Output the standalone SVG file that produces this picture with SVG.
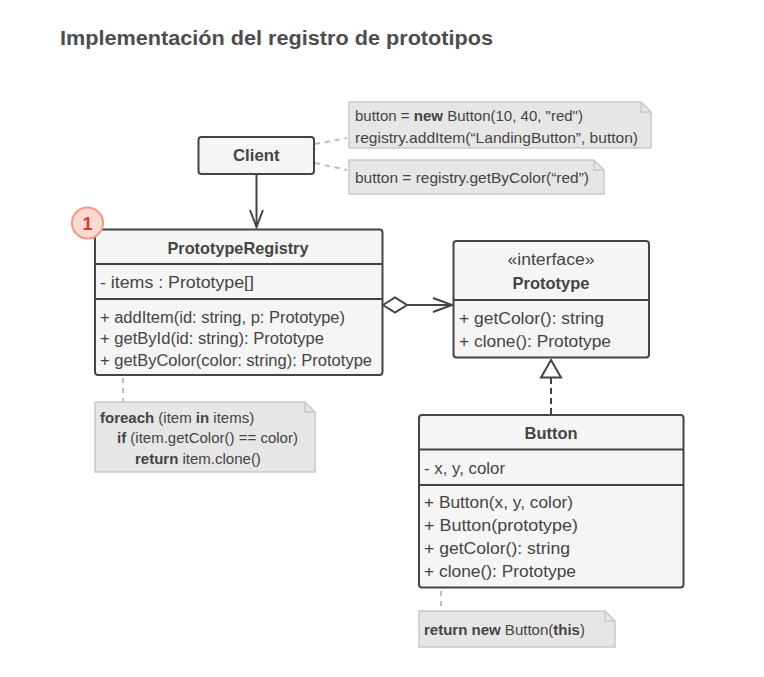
<svg xmlns="http://www.w3.org/2000/svg" width="764" height="677" viewBox="0 0 764 677">
<style>
text{font-family:"Liberation Sans","DejaVu Sans",sans-serif;fill:#444;font-size:16px}
.n{font-size:15px}
.b{font-weight:bold}
.c{text-anchor:middle}
.box{fill:#f5f5f5;stroke:#444;stroke-width:2}
.sep{stroke:#444;stroke-width:2}
.note{fill:#e6e6e6;stroke:#c9c9c9;stroke-width:1.5}
.fold{fill:none;stroke:#c9c9c9;stroke-width:1.5}
.dash{stroke:#bbb;stroke-width:2;stroke-dasharray:5 5;fill:none}
.ln{stroke:#444;stroke-width:2;fill:none}
</style>
<rect width="764" height="677" fill="#fff"/>
<text x="60" y="45" class="b" style="font-size:21px;fill:#4d4d4d" textLength="433" lengthAdjust="spacingAndGlyphs">Implementación del registro de prototipos</text>

<g id="connectors">
<path class="dash" d="M315 144 L347 138"/>
<path class="dash" d="M315 163 L347 170"/>
<path class="dash" d="M123 378 L123 402"/>
<path class="dash" d="M441 591 L441 611"/>
<path class="ln" d="M256.5 174 L256.5 227"/>
<path class="ln" d="M250 210 L256.5 227 L263 210"/>
<path class="ln" d="M383 305 L395 297.5 L407 305 L395 312.5 Z"/>
<path class="ln" d="M407 305 L452 305"/>
<path class="ln" d="M433 298 L452 305 L433 312"/>
<path class="ln" d="M551 378 L551 415" stroke-dasharray="6 4"/>
<path class="ln" d="M551 360 L541 377.5 L561 377.5 Z" fill="#fff"/>
</g>

<g id="client">
<rect class="box" x="198.5" y="137" width="115.5" height="37" rx="3"/>
<text x="233" y="161" class="b" style="font-size:17px" textLength="46.5" lengthAdjust="spacingAndGlyphs">Client</text>
</g>

<g id="note-client-1">
<path class="note" d="M349 102 H641 L651 112 V148 H349 Z"/>
<path class="fold" d="M641 102 V112 H651"/>
<text x="355" y="121" class="n">button = <tspan class="b">new</tspan> Button(10, 40, "red")</text>
<text x="355" y="143" class="n" textLength="283" lengthAdjust="spacingAndGlyphs">registry.addItem(“LandingButton”, button)</text>
</g>

<g id="note-client-2">
<path class="note" d="M349 160 H594 L604 170 V194 H349 Z"/>
<path class="fold" d="M594 160 V170 H604"/>
<text x="355" y="183" class="n" textLength="234" lengthAdjust="spacingAndGlyphs">button = registry.getByColor(“red”)</text>
</g>

<g id="prototype-registry">
<rect class="box" x="95" y="229.5" width="287.5" height="145.5" rx="3"/>
<line class="sep" x1="95" y1="264" x2="382.5" y2="264"/>
<line class="sep" x1="95" y1="299" x2="382.5" y2="299"/>
<text x="167.5" y="254" class="b" style="font-size:17px" textLength="141" lengthAdjust="spacingAndGlyphs">PrototypeRegistry</text>
<text x="100" y="288" textLength="154" lengthAdjust="spacingAndGlyphs">- items : Prototype[]</text>
<text x="100" y="322.5" textLength="245" lengthAdjust="spacingAndGlyphs">+ addItem(id: string, p: Prototype)</text>
<text x="100" y="343.5" textLength="224" lengthAdjust="spacingAndGlyphs">+ getById(id: string): Prototype</text>
<text x="100" y="365.5" textLength="272" lengthAdjust="spacingAndGlyphs">+ getByColor(color: string): Prototype</text>
</g>

<g id="badge-1">
<circle cx="87.5" cy="223" r="15.5" fill="#fcd9d1" stroke="#f29a88" stroke-width="2"/>
<text x="87.5" y="229.5" class="b c" style="font-size:18px;fill:#d23a3a">1</text>
</g>

<g id="note-registry">
<path class="note" d="M95 402 H305 L315 412 V472 H95 Z"/>
<path class="fold" d="M305 402 V412 H315"/>
<text x="100" y="423" class="n"><tspan class="b">foreach</tspan> (item <tspan class="b">in</tspan> items)</text>
<text x="117" y="443" class="n"><tspan class="b">if</tspan> (item.getColor() == color)</text>
<text x="135" y="464" class="n"><tspan class="b">return</tspan> item.clone()</text>
</g>

<g id="prototype">
<rect class="box" x="453.5" y="241" width="195.5" height="116.5" rx="3"/>
<line class="sep" x1="453.5" y1="300" x2="649" y2="300"/>
<text x="507.5" y="265" textLength="87" lengthAdjust="spacingAndGlyphs">«interface»</text>
<text x="512.5" y="289" class="b" style="font-size:17px" textLength="77" lengthAdjust="spacingAndGlyphs">Prototype</text>
<text x="459" y="324" textLength="145" lengthAdjust="spacingAndGlyphs">+ getColor(): string</text>
<text x="459" y="346.5" textLength="152" lengthAdjust="spacingAndGlyphs">+ clone(): Prototype</text>
</g>

<g id="button">
<rect class="box" x="419" y="415" width="264.5" height="172.5" rx="3"/>
<line class="sep" x1="419" y1="449.5" x2="683.5" y2="449.5"/>
<line class="sep" x1="419" y1="485" x2="683.5" y2="485"/>
<text x="524.5" y="438.5" class="b" style="font-size:17px" textLength="53" lengthAdjust="spacingAndGlyphs">Button</text>
<text x="424" y="474" textLength="81" lengthAdjust="spacingAndGlyphs">- x, y, color</text>
<text x="424" y="508" textLength="149" lengthAdjust="spacingAndGlyphs">+ Button(x, y, color)</text>
<text x="424" y="531" textLength="154" lengthAdjust="spacingAndGlyphs">+ Button(prototype)</text>
<text x="424" y="554" textLength="146" lengthAdjust="spacingAndGlyphs">+ getColor(): string</text>
<text x="424" y="577" textLength="152" lengthAdjust="spacingAndGlyphs">+ clone(): Prototype</text>
</g>

<g id="note-button">
<path class="note" d="M419 611 H605 L615 621 V647 H419 Z"/>
<path class="fold" d="M605 611 V621 H615"/>
<text x="424" y="635" class="n"><tspan class="b">return</tspan> <tspan class="b">new</tspan> Button(<tspan class="b">this</tspan>)</text>
</g>
</svg>
